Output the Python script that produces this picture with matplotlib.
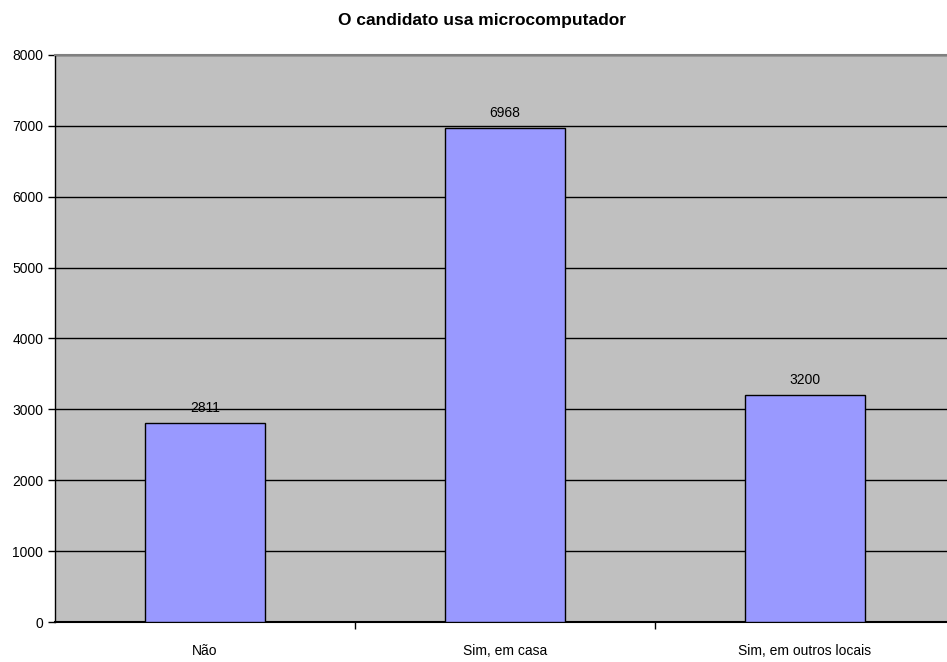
import numpy as np
import matplotlib
matplotlib.use("Agg")
from matplotlib import pyplot as plt

# respostas do questionario
categorias = ["Não", "Sim, em casa", "Sim, em outros locais"]
valores = [2811, 6968, 3200]
yticks = [0, 1000, 2000, 3000, 4000, 5000, 6000, 7000, 8000]

plt.rcParams['font.family'] = ['Liberation Sans', 'DejaVu Sans']

fig = plt.figure(figsize=(9.47, 6.62), dpi=100)
# area do grafico passa um pouco da borda direita, como no original
ax = fig.add_axes([55/947, 40/662, 900/947, 567/662])
ax.set_facecolor('#C0C0C0')

x = np.arange(len(categorias))
bars = ax.bar(x, valores, width=0.4, color='#9999FF', edgecolor='black', linewidth=1, zorder=3)
for b, v in zip(bars, valores):
    ax.text(b.get_x() + b.get_width()/2, v + 110, str(v), ha='center', va='bottom', fontsize=10, zorder=4)

ax.set_xlim(-0.5, len(categorias) - 0.5)
ax.set_ylim(0, 8000)
ax.set_yticks(yticks)
ax.yaxis.grid(True, color='black', linewidth=1, zorder=1)
ax.set_axisbelow(True)

ax.set_xticks(x)
ax.set_xticklabels(categorias, fontsize=10)
ax.tick_params(axis='x', length=0, pad=16)
ax.set_xticks([0.5, 1.5], minor=True)
ax.tick_params(axis='x', which='minor', length=5, width=1, direction='out')
ax.tick_params(axis='y', labelsize=10, length=5, width=1, direction='out')

ax.spines['top'].set_color('#808080')
ax.spines['top'].set_linewidth(1.5)
ax.spines['right'].set_visible(False)
ax.spines['left'].set_linewidth(1)
ax.spines['bottom'].set_linewidth(1.5)

fig.text(482/947, 1 - 21/662, "O candidato usa microcomputador", ha='center', va='center',
         fontsize=12.5, fontweight='bold')

plt.savefig("out.png", dpi=100)
